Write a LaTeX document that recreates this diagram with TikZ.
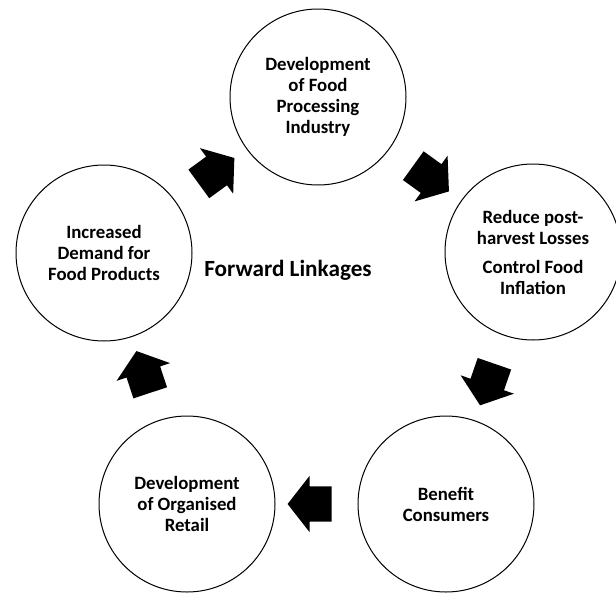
\documentclass[tikz,border=0pt]{standalone}
\usepackage{fontspec}
\setmainfont{Carlito}
\usetikzlibrary{shapes.arrows}
\begin{document}
\begin{tikzpicture}[x=1pt,y=-1pt,
  stage/.style={circle, draw, line width=1pt, minimum size=176pt, inner sep=0pt,
    align=center, font=\bfseries\fontsize{18.8}{21}\selectfont},
  blockarrow/.style={single arrow, fill=black, draw=none, minimum height=44pt,
    inner xsep=0pt, inner ysep=17.5pt, single arrow head extend=10.5pt,
    single arrow tip angle=104, sloped, allow upside down, pos=0.5},
  titletext/.style={font=\bfseries\fontsize{23.2}{27}\selectfont}]
\useasboundingbox (0,0) rectangle (616,592);
\node[stage] (proc) at (318,97) {Development\\of Food\\Processing\\Industry};
\node[stage] (loss) at (533,252) {Reduce post-\\harvest Losses\\[8pt]Control Food\\Inflation};
\node[stage] (cons) at (446,504) {Benefit\\Consumers};
\node[stage] (retail) at (187,504) {Development\\of Organised\\Retail};
\node[stage] (demand) at (104,253) {Increased\\Demand for\\Food Products};
\node[titletext] (title) at (288,270) {Forward Linkages};
\path (proc) -- node[blockarrow] (a1) {} (loss);
\path (loss) -- node[blockarrow] (a2) {} (cons);
\path (cons) -- node[blockarrow] (a3) {} (retail);
\path (retail) -- node[blockarrow] (a4) {} (demand);
\path (demand) -- node[blockarrow] (a5) {} (proc);
\end{tikzpicture}
\end{document}
